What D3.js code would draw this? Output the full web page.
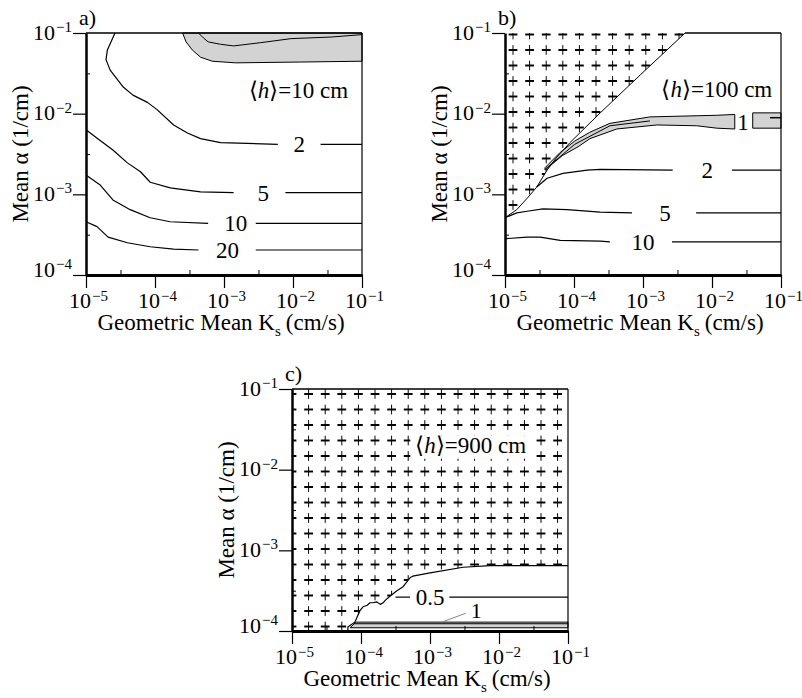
<!DOCTYPE html>
<html>
<meta charset="utf-8">
<head>
<title>Mean alpha vs geometric mean Ks</title>
<script src="https://d3js.org/d3.v7.min.js"></script>
<style>
  body { margin: 0; background: #fff; }
  svg text { font-family: "Liberation Serif", "Times New Roman", serif; fill: #000; }
</style>
</head>
<body>
<svg class="chart" width="802" height="698"></svg>
<script>
// axis ticks (decades) and half-decade minor ticks
var ksTicks = [1e-5, 1e-4, 1e-3, 1e-2, 1e-1];
var alphaTicks = [1e-4, 1e-3, 1e-2, 1e-1];
var ksMinor = [3.16e-5, 3.16e-4, 3.16e-3, 3.16e-2];
var alphaMinor = [3.16e-4, 3.16e-3, 3.16e-2];

// all curves below are [log10 Ks, log10 alpha]

// a) <h> = 10 cm
var aShade = [[-3.60,-1.00],[-3.55,-1.11],[-3.46,-1.21],[-3.34,-1.30],[-3.17,-1.35],[-2.83,-1.37],[-1.89,-1.36],[-1.00,-1.35],[-1.00,-1.00]];
var aShadeInner = [[-3.37,-1.00],[-3.30,-1.06],[-3.23,-1.11],[-3.05,-1.14],[-2.86,-1.16],[-2.47,-1.12],[-2.03,-1.07],[-1.45,-1.05],[-1.00,-1.02]];
var aC2 = [[[-4.58,-1.00],[-4.69,-1.21],[-4.71,-1.33],[-4.65,-1.46],[-4.46,-1.67],[-4.32,-1.77],[-4.11,-1.86],[-3.97,-1.95],[-3.73,-2.14],[-3.53,-2.24],[-3.34,-2.31],[-3.05,-2.36],[-2.22,-2.38]],
           [[-1.60,-2.38],[-1.00,-2.38]]];
var aC5 = [[[-5.00,-2.20],[-4.80,-2.33],[-4.61,-2.45],[-4.40,-2.61],[-4.21,-2.72],[-4.07,-2.85],[-3.78,-2.92],[-3.34,-2.97],[-2.86,-2.98]],
           [[-2.11,-2.98],[-1.00,-2.98]]];
var aC10 = [[[-5.00,-2.76],[-4.80,-2.88],[-4.61,-3.07],[-4.36,-3.19],[-4.07,-3.29],[-3.78,-3.34],[-3.23,-3.36]],
            [[-2.54,-3.36],[-1.00,-3.36]]];
var aC20 = [[[-5.00,-3.34],[-4.84,-3.40],[-4.68,-3.53],[-4.40,-3.60],[-4.07,-3.65],[-3.73,-3.68],[-3.37,-3.69]],
            [[-2.54,-3.69],[-1.00,-3.69]]];
var aLabels = [["2",-1.91,-2.38],["5",-2.43,-2.98],["10",-2.83,-3.36],["20",-2.95,-3.69]];

// b) <h> = 100 cm
var bBoundary = [[-5.00,-3.29],[-4.83,-3.19],[-4.68,-3.05],[-4.54,-2.91],[-4.39,-2.70],[-4.25,-2.54],[-4.06,-2.36],[-3.62,-1.99],[-3.04,-1.52],[-2.39,-1.00]];
var bBandUpper = [[-4.42,-2.67],[-4.20,-2.48],[-3.99,-2.34],[-3.77,-2.23],[-3.48,-2.12],[-2.90,-2.04],[-1.93,-2.02],[-1.67,-2.01]];
var bBandLower = [[-4.42,-2.70],[-4.17,-2.52],[-3.94,-2.41],[-3.77,-2.31],[-3.38,-2.19],[-2.80,-2.14],[-2.22,-2.15],[-1.93,-2.18],[-1.67,-2.19]];
var bBandEndUpper = [[-1.41,-1.99],[-1.00,-1.99]];
var bBandEndLower = [[-1.41,-2.18],[-1.00,-2.18]];
var bBandInner = [[-4.42,-2.69],[-3.99,-2.38],[-3.48,-2.15],[-2.90,-2.09]];
var bC2 = [[[-4.54,-2.91],[-4.39,-2.80],[-4.16,-2.74],[-3.81,-2.70],[-3.62,-2.69],[-2.57,-2.70]],
           [[-1.71,-2.70],[-1.00,-2.70]]];
var bC5 = [[[-5.00,-3.29],[-4.83,-3.23],[-4.68,-3.21],[-4.45,-3.18],[-4.10,-3.19],[-3.62,-3.22],[-3.16,-3.23]],
           [[-2.23,-3.23],[-1.00,-3.23]]];
var bC10 = [[[-5.00,-3.55],[-4.68,-3.53],[-4.49,-3.53],[-4.20,-3.57],[-3.62,-3.58],[-3.48,-3.59]],
            [[-2.58,-3.59],[-1.00,-3.59]]];
var bLabels = [["1",-1.55,-2.10],["2",-2.07,-2.70],["5",-2.68,-3.23],["10",-3.00,-3.59]];

// c) <h> = 900 cm
var cBoundary = [[-4.19,-4.00],[-4.19,-3.95],[-4.09,-3.89],[-4.01,-3.74],[-3.97,-3.70],[-3.91,-3.68],[-3.87,-3.65],[-3.83,-3.65],[-3.77,-3.64],[-3.72,-3.67],[-3.68,-3.65],[-3.65,-3.62],[-3.58,-3.57],[-3.48,-3.50],[-3.39,-3.45],[-3.29,-3.34],[-3.25,-3.32],[-3.00,-3.28],[-2.52,-3.21],[-2.13,-3.19],[-1.00,-3.19]];
var cBand = [[-4.16,-3.96],[-4.07,-3.89],[-1.00,-3.89],[-1.00,-3.96]];
var cBandLine = [[-4.10,-3.91],[-1.00,-3.91]];
var cC05 = [[[-3.50,-3.58],[-3.29,-3.58]],
            [[-2.72,-3.58],[-1.00,-3.58]]];
var cLeader = [[-2.83,-3.89],[-2.48,-3.78]];
var cLabels = [["0.5",-3.00,-3.58]];

var W = 276, H = 242;
var svg = d3.select(".chart");
var defs = svg.append("defs");

var panels = [
  {id: "a", tag: "a)", left: 86, top: 33, h: "10", hText: [-1.92, -1.81]},
  {id: "b", tag: "b)", left: 505, top: 33, h: "100", hText: [-1.93, -1.79], hatch: [8, 1.5]},
  {id: "c", tag: "c)", left: 292, top: 389, h: "900", hText: [-2.41, -1.79], hatch: [0, 5], hBox: true}
];

function drawPanel(p) {
  var g = svg.append("g").attr("transform", "translate(" + p.left + "," + p.top + ")");

  var x = d3.scaleLog().domain([1e-5, 1e-1]).range([0, W]);
  var y = d3.scaleLog().domain([1e-4, 1e-1]).range([H, 0]);
  var px = function(d){ return x(Math.pow(10, d[0])); };
  var py = function(d){ return y(Math.pow(10, d[1])); };
  var line = d3.line().x(px).y(py);

  function curve(pts, w, col) {
    g.append("path").attr("d", line(pts))
      .attr("fill", "none").attr("stroke", col || "#000")
      .attr("stroke-width", w || 1.2).attr("stroke-linejoin", "round");
  }
  function shade(pts) {
    g.append("path").attr("d", line(pts) + "Z")
      .attr("fill", "#d3d3d3").attr("stroke", "#000").attr("stroke-width", 1);
  }
  function addLabels(list) {
    list.forEach(function(l){
      g.append("text").attr("x", px([l[1], 0])).attr("y", py([0, l[2]]))
        .attr("dy", "0.35em").attr("text-anchor", "middle")
        .attr("font-size", 23).text(l[0]);
    });
  }

  // crosses pattern for the hatched part
  if (p.hatch) {
    var pat = defs.append("pattern").attr("id", "hatch-" + p.id)
      .attr("patternUnits", "userSpaceOnUse")
      .attr("width", 16.6).attr("height", 15.5)
      .attr("x", p.hatch[0] - 8.3).attr("y", p.hatch[1] - 7.75);
    pat.append("path")
      .attr("d", "M3.8,7.75H12.8M8.3,2.5V13")
      .attr("stroke", "#000").attr("stroke-width", 1.1)
      .attr("shape-rendering", "crispEdges");
  }

  if (p.id === "a") {
    shade(aShade);
    curve(aShadeInner, 1);
    [aC2, aC5, aC10, aC20].forEach(function(c){ c.forEach(function(s){ curve(s); }); });
    addLabels(aLabels);
  }

  if (p.id === "b") {
    var hatchPoly = [[-5, -1]].concat(bBoundary.slice().reverse());
    g.append("path").attr("d", line(hatchPoly) + "Z")
      .attr("fill", "url(#hatch-b)").attr("stroke", "none");
    shade(bBandUpper.concat(bBandLower.slice().reverse()));
    shade(bBandEndUpper.concat(bBandEndLower.slice().reverse()));
    curve(bBandInner, 1);
    curve([[-1.16, -2.05], [-1.0, -2.05]], 1.5);
    curve(bBoundary, 1);
    [bC2, bC5, bC10].forEach(function(c){ c.forEach(function(s){ curve(s); }); });
    addLabels(bLabels);
  }

  if (p.id === "c") {
    var hatchPolyC = [[-5, -1], [-1, -1]].concat(cBoundary.slice().reverse()).concat([[-5, -4]]);
    g.append("path").attr("d", line(hatchPolyC) + "Z")
      .attr("fill", "url(#hatch-c)").attr("stroke", "none");
    shade(cBand);
    curve(cBandLine, 1);
    curve(cBoundary, 1.2);
    cC05.forEach(function(s){ curve(s); });
    curve(cLeader, 1, "#888");
    addLabels(cLabels);
    g.append("text").attr("x", px([-2.41, 0])).attr("y", py([0, -3.84]))
      .attr("font-size", 22).text("1");
  }

  // <h> label
  var ht = g.append("text").attr("x", px([p.hText[0], 0])).attr("y", py([0, p.hText[1]]))
    .attr("text-anchor", "middle").attr("font-size", 23);
  ht.append("tspan").text("\u27E8");
  ht.append("tspan").attr("font-style", "italic").text("h");
  ht.append("tspan").text("\u27E9=" + p.h + " cm");
  if (p.hBox) {
    var bb = ht.node().getBBox();
    g.insert("rect", function(){ return ht.node(); })
      .attr("x", bb.x - 5).attr("y", bb.y + 3)
      .attr("width", bb.width + 10).attr("height", bb.height - 2)
      .attr("fill", "#fff");
  }

  // bottom axis with 10^n labels
  var xAxis = g.append("g").attr("transform", "translate(0," + H + ")")
    .call(d3.axisBottom(x).tickValues(ksTicks).tickSize(13).tickSizeOuter(0).tickFormat(""));
  xAxis.attr("font-family", null);
  xAxis.select(".domain").attr("stroke-width", 3);
  xAxis.selectAll(".tick line").attr("stroke-width", 1.2);
  xAxis.selectAll(".tick text")
    .attr("y", 33).attr("dy", null).attr("dx", 2)
    .attr("font-size", 22)
    .each(function(d){ supLabel(d3.select(this), d); });

  g.append("g").attr("transform", "translate(0," + H + ")")
    .call(d3.axisBottom(x).tickValues(ksMinor).tickSize(-5).tickSizeOuter(0).tickFormat(""))
    .select(".domain").remove();

  // left axis
  var yAxis = g.append("g")
    .call(d3.axisLeft(y).tickValues(alphaTicks).tickSize(13).tickSizeOuter(0).tickFormat(""));
  yAxis.attr("font-family", null);
  yAxis.select(".domain").attr("stroke-width", 2.5);
  yAxis.selectAll(".tick line").attr("stroke-width", 1.2);
  yAxis.selectAll(".tick text")
    .attr("x", -14).attr("dy", null)
    .attr("y", function(d){ return d === 1e-4 ? 1 : 6; })
    .attr("font-size", 22)
    .each(function(d){ supLabel(d3.select(this), d); });

  g.append("g")
    .call(d3.axisLeft(y).tickValues(alphaMinor).tickSize(-4).tickSizeOuter(0).tickFormat(""))
    .select(".domain").remove();

  // top and right frame
  var topStart = p.id === "b" ? px([-2.39, 0]) : 0;
  g.append("line").attr("x1", topStart).attr("x2", W).attr("y1", 0).attr("y2", 0)
    .attr("stroke", "#000").attr("stroke-width", 1.5);
  g.append("line").attr("x1", W).attr("x2", W).attr("y1", 0).attr("y2", H)
    .attr("stroke", "#000").attr("stroke-width", 1.2);

  // axis titles
  var xt = g.append("text").attr("x", W / 2 - 3).attr("y", H + 55)
    .attr("text-anchor", "middle").attr("font-size", 23);
  xt.append("tspan").text("Geometric Mean K");
  xt.append("tspan").attr("font-size", 15).attr("dy", 6).text("s");
  xt.append("tspan").attr("dy", -6).attr("dx", 5).text("(cm/s)");

  g.append("text")
    .attr("transform", "translate(-58," + (H / 2) + ") rotate(-90)")
    .attr("text-anchor", "middle").attr("font-size", 23)
    .text("Mean \u03B1 (1/cm)");

  g.append("text").attr("x", -7).attr("y", -8).attr("font-size", 22).text(p.tag);
}

function supLabel(t, d) {
  t.text(null).attr("fill", "#000");
  t.append("tspan").text("10");
  t.append("tspan").attr("font-size", 15).attr("dy", -7.5).attr("dx", 1)
    .text("\u2212" + Math.round(-Math.log10(d)));
}

panels.forEach(drawPanel);
</script>
</body>
</html>
